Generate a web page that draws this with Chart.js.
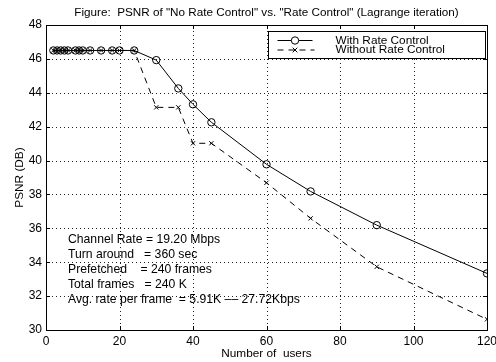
<!DOCTYPE html>
<html>
<head>
<meta charset="utf-8">
<script src="https://cdn.jsdelivr.net/npm/chart.js@4"></script>
<style>
  html, body { margin: 0; padding: 0; background: #fff; }
</style>
</head>
<body>
<canvas id="psnr" width="496" height="362"></canvas>
<script>
// number of users (divisors of the 360 s turn-around)
const users = [2, 3, 4, 5, 6, 8, 9, 10, 12, 15, 18, 20, 24, 30, 36, 40, 45, 60, 72, 90, 120];
const withRate = [46.5, 46.5, 46.5, 46.5, 46.5, 46.5, 46.5, 46.5, 46.5, 46.5, 46.5, 46.5, 46.5,
  45.93, 44.26, 43.32, 42.26, 39.78, 38.18, 36.19, 33.34];
const withoutRate = [46.5, 46.5, 46.5, 46.5, 46.5, 46.5, 46.5, 46.5, 46.5, 46.5, 46.5, 46.5, 46.5,
  43.14, 43.14, 41.02, 41.02, 38.69, 36.59, 33.73, 30.63];

const xTicks = [0, 20, 40, 60, 80, 100, 120];
const yTicks = [30, 32, 34, 36, 38, 40, 42, 44, 46, 48];

const notes = [
  'Channel Rate = 19.20 Mbps',
  'Turn around   = 360 sec',
  'Prefetched    = 240 frames',
  'Total frames   = 240 K',
  'Avg. rate per frame  = 5.91K –– 27.72Kbps'
];

const FONT = "'Liberation Sans', Arial, Helvetica, sans-serif";

const toPoints = (vals) => vals.map((v, i) => ({ x: users[i], y: v }));

// dotted grid, one pixel dot every 4 px along each tick line
const dottedGrid = {
  id: 'dottedGrid',
  beforeDatasetsDraw(chart) {
    const { ctx, chartArea: a, scales: { x, y } } = chart;
    ctx.save();
    ctx.beginPath();
    ctx.rect(a.left, a.top, a.right - a.left, a.bottom - a.top);
    ctx.clip();
    ctx.fillStyle = '#222';
    xTicks.forEach(v => {
      const px = Math.round(x.getPixelForValue(v));
      for (let py = Math.round(a.top) + 2; py < a.bottom - 1; py += 4) ctx.fillRect(px, py, 1, 1);
    });
    yTicks.forEach(v => {
      const py = Math.round(y.getPixelForValue(v));
      for (let px = Math.round(a.left) + 2; px < a.right - 1; px += 4) ctx.fillRect(px, py, 1, 1);
    });
    ctx.restore();
  }
};

// box, inward ticks, legend and the parameter notes
const decorations = {
  id: 'decorations',
  afterDraw(chart) {
    const { ctx, chartArea: a, scales: { x, y } } = chart;
    ctx.save();
    ctx.strokeStyle = '#000';
    ctx.lineWidth = 1;
    ctx.setLineDash([]);
    ctx.strokeRect(Math.round(a.left) + 0.5, Math.round(a.top) + 0.5,
      Math.round(a.right - a.left), Math.round(a.bottom - a.top));

    ctx.beginPath();
    xTicks.forEach(v => {
      const px = Math.round(x.getPixelForValue(v)) + 0.5;
      ctx.moveTo(px, a.top); ctx.lineTo(px, a.top + 4);
      ctx.moveTo(px, a.bottom); ctx.lineTo(px, a.bottom - 4);
    });
    yTicks.forEach(v => {
      const py = Math.round(y.getPixelForValue(v)) + 0.5;
      ctx.moveTo(a.left, py); ctx.lineTo(a.left + 4, py);
      ctx.moveTo(a.right, py); ctx.lineTo(a.right - 4, py);
    });
    ctx.stroke();

    // legend
    const lx = Math.round(a.right) - 218.5, ly = Math.round(a.top) + 6.5;
    const lw = 217, lh = 27;
    ctx.fillStyle = '#fff';
    ctx.fillRect(lx, ly, lw, lh);
    ctx.strokeRect(lx, ly, lw, lh);

    const rows = [ly + 9, ly + 18.5];
    const sx0 = lx + 9, sx1 = lx + 44, mx = (sx0 + sx1) / 2;
    ctx.beginPath();
    ctx.moveTo(sx0, rows[0]); ctx.lineTo(sx1, rows[0]);
    ctx.stroke();
    ctx.beginPath();
    ctx.fillStyle = '#fff';
    ctx.arc(mx, rows[0], 3.7, 0, Math.PI * 2);
    ctx.fill();
    ctx.stroke();

    ctx.setLineDash([6, 5]);
    ctx.beginPath();
    ctx.moveTo(sx0, rows[1]); ctx.lineTo(sx1 + 2, rows[1]);
    ctx.stroke();
    ctx.setLineDash([]);
    ctx.beginPath();
    ctx.moveTo(mx - 2.3, rows[1] - 2.3); ctx.lineTo(mx + 2.3, rows[1] + 2.3);
    ctx.moveTo(mx - 2.3, rows[1] + 2.3); ctx.lineTo(mx + 2.3, rows[1] - 2.3);
    ctx.stroke();

    ctx.fillStyle = '#000';
    ctx.font = '11.8px ' + FONT;
    ctx.textBaseline = 'middle';
    ctx.textAlign = 'left';
    ctx.fillText('With Rate Control', lx + 67, rows[0]);
    ctx.fillText('Without Rate Control', lx + 67, rows[1]);

    // simulation parameters
    ctx.font = '12.2px ' + FONT;
    notes.forEach((t, i) => {
      ctx.fillText(t, a.left + 22, a.top + 214.5 + i * 15.1);
    });
    ctx.restore();
  }
};

new Chart(document.getElementById('psnr'), {
  type: 'line',
  data: {
    datasets: [
      {
        label: 'With Rate Control',
        data: toPoints(withRate),
        borderColor: '#000',
        borderWidth: 1,
        backgroundColor: 'rgba(0,0,0,0)',
        pointStyle: 'circle',
        pointRadius: 3.7,
        pointBorderWidth: 1,
        pointBackgroundColor: 'rgba(0,0,0,0)',
        pointBorderColor: '#000',
        tension: 0
      },
      {
        label: 'Without Rate Control',
        data: toPoints(withoutRate),
        borderColor: '#000',
        borderWidth: 1,
        borderDash: [6, 5],
        backgroundColor: 'rgba(0,0,0,0)',
        pointStyle: 'crossRot',
        pointRadius: 3,
        pointBorderWidth: 1,
        pointBorderColor: '#000',
        tension: 0
      }
    ]
  },
  options: {
    responsive: false,
    animation: false,
    layout: { padding: { top: 0, right: 9, bottom: 0, left: 0 } },
    plugins: {
      legend: { display: false },
      tooltip: { enabled: false },
      title: {
        display: true,
        fullSize: false,
        text: 'Figure:  PSNR of "No Rate Control" vs. "Rate Control" (Lagrange iteration)',
        color: '#000',
        font: { family: FONT, size: 11.7, weight: 'normal' },
        padding: { top: 5.5, bottom: 5.5 }
      }
    },
    scales: {
      x: {
        type: 'linear',
        min: 0,
        max: 120,
        afterBuildTicks: (s) => { s.ticks = xTicks.map(v => ({ value: v })); },
        afterFit: (s) => { s.height = 32; s.paddingLeft = 0; s.paddingRight = 0; },
        ticks: { color: '#000', padding: 4, maxRotation: 0, font: { family: FONT, size: 12 } },
        grid: { display: false, drawTicks: false },
        border: { display: true, color: '#000' },
        title: {
          display: true,
          text: 'Number of  users',
          color: '#000',
          font: { family: FONT, size: 11.8 },
          padding: { top: 0, bottom: 1 }
        }
      },
      y: {
        type: 'linear',
        min: 30,
        max: 48,
        afterBuildTicks: (s) => { s.ticks = yTicks.map(v => ({ value: v })); },
        afterFit: (s) => { s.width = 46; s.paddingTop = 0; s.paddingBottom = 0; },
        ticks: { color: '#000', padding: 4, font: { family: FONT, size: 12 } },
        grid: { display: false, drawTicks: false },
        border: { display: true, color: '#000' },
        title: {
          display: true,
          text: 'PSNR (DB)',
          color: '#000',
          font: { family: FONT, size: 11.8 },
          padding: { top: 13, bottom: 0 }
        }
      }
    }
  },
  plugins: [dottedGrid, decorations]
});
</script>
</body>
</html>
